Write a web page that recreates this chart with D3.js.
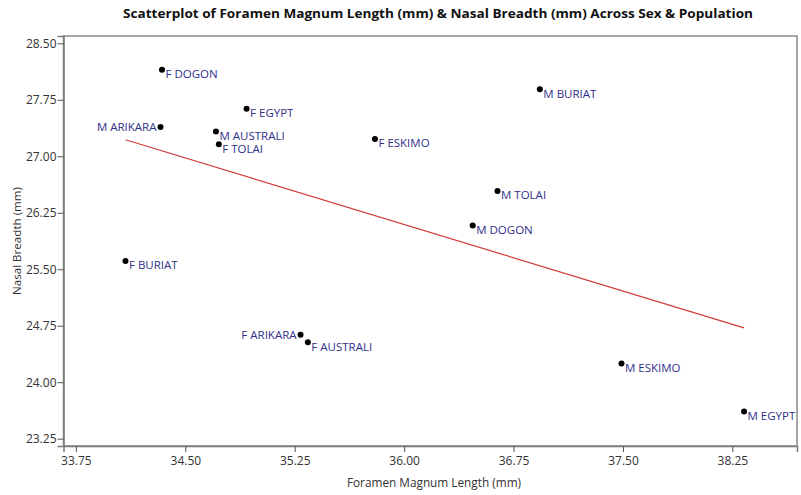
<!DOCTYPE html>
<html>
<head>
<meta charset="utf-8">
<script src="https://cdn.jsdelivr.net/npm/d3@7"></script>
<style>
  html, body { margin: 0; padding: 0; background: #fff; }
  svg { display: block; }
</style>
</head>
<body>
<svg id="chart" width="801" height="495"></svg>
<script>
// Sample groups (sex + population)
const groups = [
  "F DOGON", "M ARIKARA", "F EGYPT", "M AUSTRALI", "F TOLAI", "F ESKIMO", "M BURIAT",
  "M TOLAI", "M DOGON", "F BURIAT", "F ARIKARA", "F AUSTRALI", "M ESKIMO", "M EGYPT"
];
// Foramen magnum length (mm)
const foramenLength = [
  34.34, 34.33, 34.92, 34.71, 34.73, 35.80, 36.93,
  36.64, 36.47, 34.09, 35.29, 35.34, 37.49, 38.33
];
// Nasal breadth (mm)
const nasalBreadth = [
  28.15, 27.39, 27.63, 27.33, 27.16, 27.23, 27.89,
  26.54, 26.08, 25.61, 24.63, 24.53, 24.25, 23.61
];
const xTicks = [33.75, 34.50, 35.25, 36.00, 36.75, 37.50, 38.25];
const yTicks = [23.25, 24.00, 24.75, 25.50, 26.25, 27.00, 27.75, 28.50];

const points = groups.map((g, i) => ({ name: g, x: foramenLength[i], y: nasalBreadth[i] }));
// labels drawn on the left side of their dot
const leftLabels = new Set(["M ARIKARA", "F ARIKARA"]);

const svg = d3.select("#chart");
const frame = { left: 63.5, right: 797, top: 36, bottom: 446 };
const font = "'Open Sans', 'Noto Sans', sans-serif";

const x = d3.scaleLinear().domain([33.665, 38.693]).range([frame.left, frame.right]);
const y = d3.scaleLinear().domain([23.153, 28.597]).range([frame.bottom, frame.top]);

// Title
svg.append("text")
  .attr("x", 438).attr("y", 18)
  .attr("text-anchor", "middle")
  .attr("font-family", font)
  .attr("font-weight", 700)
  .attr("font-size", 13)
  .attr("textLength", 630)
  .attr("lengthAdjust", "spacingAndGlyphs")
  .attr("fill", "#111")
  .text("Scatterplot of Foramen Magnum Length (mm) & Nasal Breadth (mm) Across Sex & Population");

// Plot frame
svg.append("rect")
  .attr("x", frame.left).attr("y", frame.top)
  .attr("width", frame.right - frame.left).attr("height", frame.bottom - frame.top)
  .attr("fill", "none").attr("stroke", "#8a8a8a").attr("stroke-width", 1.5);

// Axes
const xAxis = svg.append("g")
  .attr("transform", `translate(0,${frame.bottom})`)
  .call(d3.axisBottom(x).tickValues(xTicks).tickFormat(d3.format(".2f")).tickSize(6).tickPadding(4));
const yAxis = svg.append("g")
  .attr("transform", `translate(${frame.left},0)`)
  .call(d3.axisLeft(y).tickValues(yTicks).tickFormat(d3.format(".2f")).tickSize(6).tickPadding(1));

[xAxis, yAxis].forEach(a => {
  a.select(".domain").attr("stroke", "#7a7a7a").attr("stroke-width", 1.5);
  a.selectAll(".tick line").attr("stroke", "#555").attr("stroke-width", 1);
  a.selectAll(".tick text")
    .attr("font-family", font).attr("font-size", 12).attr("fill", "#333");
});

// Axis titles
svg.append("text")
  .attr("x", 434).attr("y", 487)
  .attr("text-anchor", "middle")
  .attr("font-family", font).attr("font-size", 11.8).attr("fill", "#333")
  .text("Foramen Magnum Length (mm)");
svg.append("text")
  .attr("transform", `translate(21,${(frame.top + frame.bottom) / 2}) rotate(-90)`)
  .attr("text-anchor", "middle")
  .attr("font-family", font).attr("font-size", 11.6).attr("fill", "#333")
  .text("Nasal Breadth (mm)");

// Least-squares fit line over the observed x range
const mx = d3.mean(points, d => d.x), my = d3.mean(points, d => d.y);
const slope = d3.sum(points, d => (d.x - mx) * (d.y - my)) / d3.sum(points, d => (d.x - mx) ** 2);
const fit = v => my + slope * (v - mx);
const [x0, x1] = d3.extent(points, d => d.x);
svg.append("line")
  .attr("x1", x(x0)).attr("y1", y(fit(x0)))
  .attr("x2", x(x1)).attr("y2", y(fit(x1)))
  .attr("stroke", "#d03a3a").attr("stroke-width", 1.2);

// Points
svg.append("g").selectAll("circle")
  .data(points).join("circle")
  .attr("cx", d => x(d.x)).attr("cy", d => y(d.y))
  .attr("r", 3).attr("fill", "#000");

// Point labels
svg.append("g").selectAll("text")
  .data(points).join("text")
  .attr("x", d => leftLabels.has(d.name) ? x(d.x) - 4 : x(d.x) + 3.5)
  .attr("y", d => leftLabels.has(d.name) ? y(d.y) + 4.5 : y(d.y) + 8.5)
  .attr("text-anchor", d => leftLabels.has(d.name) ? "end" : "start")
  .attr("font-family", font).attr("font-size", 11.5).attr("fill", "#2f2f8a")
  .text(d => d.name);
</script>
</body>
</html>
